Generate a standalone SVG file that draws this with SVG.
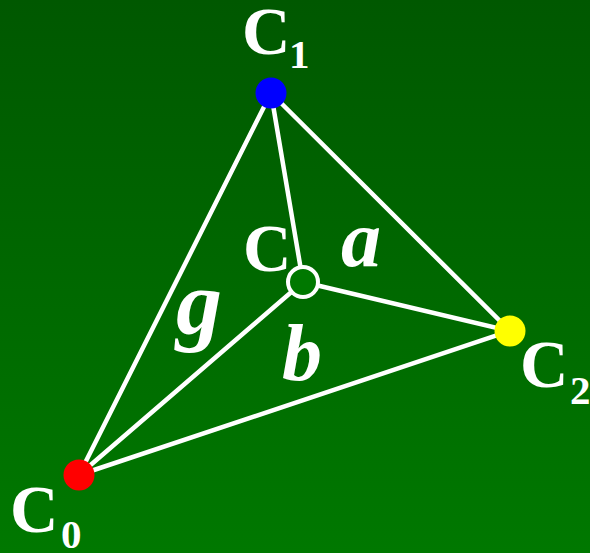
<svg xmlns="http://www.w3.org/2000/svg" width="590" height="553" viewBox="0 0 590 553">
<defs>
<linearGradient id="bg" x1="0" y1="0" x2="0" y2="1">
<stop offset="0" stop-color="#005800"/>
<stop offset="1" stop-color="#007800"/>
</linearGradient>
<style>
.e{stroke:#fff;stroke-width:4.5;fill:none;stroke-linecap:round}
.lbl{font-family:"Liberation Serif","Times New Roman",serif;font-weight:bold;fill:#fff}
.big{font-size:67px}
.sub{font-size:41px}
.gr{font-size:80px;font-style:italic}
.gg{font-size:92px}
</style>
</defs>
<rect width="590" height="553" fill="url(#bg)"/>
<g id="connectors">
<line class="e" x1="79" y1="475" x2="271" y2="93"/>
<line class="e" x1="271" y1="93" x2="510" y2="331"/>
<line class="e" x1="79" y1="475" x2="510" y2="331"/>
<line class="e" x1="271" y1="93" x2="303" y2="282"/>
<line class="e" x1="79" y1="475" x2="303" y2="282"/>
<line class="e" x1="510" y1="331" x2="303" y2="282"/>
</g>
<g id="C1">
<circle cx="271" cy="93" r="15.5" fill="#0000ff"/>
<text class="lbl big" x="242" y="54">C</text>
<text class="lbl sub" x="289" y="68">1</text>
</g>
<g id="C">
<circle cx="303" cy="282" r="15" fill="#007800" stroke="#fff" stroke-width="4"/>
<text class="lbl big" x="243" y="271">C</text>
</g>
<g id="C0">
<circle cx="79" cy="475" r="15.5" fill="#ff0000"/>
<text class="lbl big" x="10" y="532">C</text>
<text class="lbl sub" x="61" y="548">0</text>
</g>
<g id="C2">
<circle cx="510" cy="331" r="15.5" fill="#ffff00"/>
<text class="lbl big" x="520" y="387">C</text>
<text class="lbl sub" x="570" y="404">2</text>
</g>
<g id="labels">
<text class="lbl gr" x="341" y="266">a</text>
<text class="lbl gr" x="282" y="380">b</text>
<text class="lbl gr gg" x="176" y="334">g</text>
</g>
</svg>
